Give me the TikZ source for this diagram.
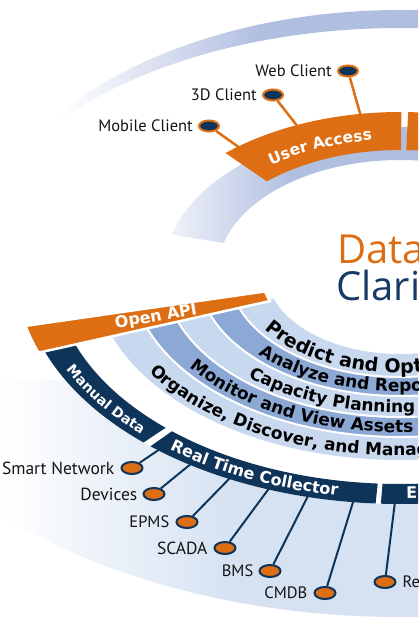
\documentclass[tikz,border=0pt]{standalone}
\usepackage{fontspec}
\setmainfont{PT Sans}
\newfontfamily\bandfont{DejaVu Sans}
\newfontfamily\titlefont{Open Sans}
\usetikzlibrary{decorations.text,shapes.geometric,positioning}
\definecolor{orng}{RGB}{222,110,20}
\definecolor{navy}{RGB}{14,52,90}
\definecolor{paleb}{RGB}{200,216,238}
\definecolor{medb}{RGB}{140,168,212}
\definecolor{bgb}{RGB}{214,226,242}
\definecolor{topb}{RGB}{176,190,224}
\definecolor{titlenavy}{RGB}{24,58,102}
\definecolor{lblgray}{RGB}{20,20,20}
\newcommand\bandtxt{\bandfont\bfseries\fontsize{17}{17}\selectfont}
\newcommand\predtxt{\bandfont\bfseries\fontsize{19}{19}\selectfont}
\newcommand\navytxt{\bandfont\bfseries\fontsize{16}{16}\selectfont}
\newcommand\mantxt{\bandfont\bfseries\fontsize{14}{14}\selectfont}
\newcommand\uatxt{\bandfont\bfseries\fontsize{15.5}{15.5}\selectfont}
\begin{document}
\begin{tikzpicture}[x=1pt,y=-1pt,
  ell/.style={shift={(400,272)},xscale=1.63},
  sect/.style n args={4}{insert path={(#1:#4) arc[start angle=#1,end angle=#2,radius=#4] -- (#2:#3) arc[start angle=#2,end angle=#1,radius=#3] -- cycle}},
  leafb/.style={ellipse,draw=navy,fill=orng,line width=2pt,minimum width=21pt,minimum height=12pt,inner sep=0pt},
  leaft/.style={ellipse,draw=orng,fill=navy,line width=2pt,minimum width=20pt,minimum height=11pt,inner sep=0pt},
  lbl/.style={font=\fontsize{16.5}{16.5}\selectfont,text=lblgray,inner sep=0pt},
  nline/.style={draw=navy,line width=2pt},
  oline/.style={draw=orng,line width=2.5pt},
  btext/.style={decorate,decoration={text along path,text align=left,text={#1}}},
  wtext/.style={decorate,decoration={text along path,text align=left,text color=white,text={#1}}}
]
\useasboundingbox (0,0) rectangle (418,626);
\clip (0,0) rectangle (418,626);

% faded top arcs
\begin{scope}
  \path[clip,shift={(400,272)}] (200:428 and 262) arc[start angle=200,end angle=300,x radius=428,y radius=262]
     -- (300:434 and 244) arc[start angle=300,end angle=200,x radius=434,y radius=244] -- cycle;
  \shade[left color=white,right color=topb] (60,0) rectangle (262,200);
  \fill[topb] (260,0) rectangle (430,200);
\end{scope}
\begin{scope}
  \path[clip,ell,sect={195}{300}{112}{145}];
  \shade[left color=white,right color=topb] (140,100) rectangle (292,260);
  \fill[topb] (290,100) rectangle (430,260);
\end{scope}

% faded background ring below
\begin{scope}
  \path[clip,ell,sect={162}{50}{232}{345}];
  \shade[left color=white,right color=bgb] (0,380) rectangle (232,626);
  \fill[bgb] (230,380) rectangle (430,626);
\end{scope}

% leaf nodes and labels
\node[leaft] (mobile) at (209,126) {};
\node[leaft] (threed) at (273,95) {};
\node[leaft] (web) at (348,71) {};
\node[lbl,left=5pt of mobile] (mobilel) {Mobile Client};
\node[lbl,left=5pt of threed] (threedl) {3D Client};
\node[lbl,left=5pt of web] (webl) {Web Client};

\node[leafb] (smart) at (132,468) {};
\node[leafb] (devices) at (154,494) {};
\node[leafb] (epms) at (187,522) {};
\node[leafb] (scada) at (225,548) {};
\node[leafb] (bms) at (270,571) {};
\node[leafb] (cmdb) at (325,593) {};
\node[leafb] (re) at (385,582) {};
\node[lbl,left=6pt of smart,font=\fontsize{17.5}{17.5}\selectfont] (smartl) {Smart Network};
\node[lbl,left=5pt of devices,font=\fontsize{17.5}{17.5}\selectfont] (devicesl) {Devices};
\node[lbl,left=6pt of epms] (epmsl) {EPMS};
\node[lbl,left=6pt of scada,font=\fontsize{17.5}{17.5}\selectfont] (scadal) {SCADA};
\node[lbl,left=5pt of bms] (bmsl) {BMS};
\node[lbl,left=6pt of cmdb] (cmdbl) {CMDB};
\node[lbl,right=6pt of re] (rel) {Re};

% connector ends inside the bands
\coordinate (mobileA) at (244.9,151.5);
\coordinate (threedA) at (301.7,131.7);
\coordinate (webA) at (361.6,118.8);
\coordinate (smartA) at (165,445.6);
\coordinate (devicesA) at (196.6,459.2);
\coordinate (epmsA) at (234.2,473.7);
\coordinate (scadaA) at (273.6,482.2);
\coordinate (bmsA) at (310.7,490.6);
\coordinate (cmdbA) at (354.8,496.3);
\coordinate (reA) at (395.7,496);

\draw[oline] (mobile) -- (mobileA);
\draw[oline] (threed) -- (threedA);
\draw[oline] (web) -- (webA);
\draw[nline] (smart) -- (smartA);
\draw[nline] (devices) -- (devicesA);
\draw[nline] (epms) -- (epmsA);
\draw[nline] (scada) -- (scadaA);
\draw[nline] (bms) -- (bmsA);
\draw[nline] (cmdb) -- (cmdbA);
\draw[nline] (re) -- (reA);

% blue bands
\fill[ell,paleb,sect={161}{50}{82}{105}];
\fill[ell,medb,sect={161}{50}{105}{124}];
\fill[ell,paleb,sect={161}{50}{124}{145}];
\fill[ell,medb,sect={161}{50}{145}{165}];
\fill[ell,paleb,sect={161}{50}{165}{188}];
\begin{scope}[ell]
  \foreach \r in {105,124,145,165}
    \draw[white,line width=2pt] (161:\r) arc[start angle=161,end angle=50,radius=\r];
\end{scope}

% navy ring
\fill[ell,navy,sect={160}{132.7}{212}{232}];
\fill[ell,navy,sect={131.3}{93.7}{212}{232}];
\fill[ell,navy,sect={92.9}{50}{212}{232}];

% orange bands
\filldraw[ell,fill=orng,draw=white,line width=2.5pt,sect={160}{166.8}{85}{236}];
\fill[ell,orng,sect={228}{270.3}{122}{160}];
\fill[ell,orng,sect={271.8}{300}{122}{160}];

% band texts
\begin{scope}[shift={(400,272)}]
  \path[btext={|\predtxt|Predict and Opti}]
    (145.5:{1.63*101} and 101) arc[start angle=145.5,end angle=70,x radius={1.63*101},y radius=101];
  \path[btext={|\bandtxt|Analyze and Repo}]
    (136.5:{1.63*119.5} and 119.5) arc[start angle=136.5,end angle=70,x radius={1.63*119.5},y radius=119.5];
  \path[btext={|\bandtxt|Capacity Planning}]
    (131.5:{1.63*140.5} and 140.5) arc[start angle=131.5,end angle=70,x radius={1.63*140.5},y radius=140.5];
  \path[btext={|\bandtxt|Monitor and View Assets}]
    (143.5:{1.63*160.5} and 160.5) arc[start angle=143.5,end angle=70,x radius={1.63*160.5},y radius=160.5];
  \path[btext={|\bandtxt|Organize, Discover, and Manag}]
    (147:{1.63*183.5} and 183.5) arc[start angle=147,end angle=70,x radius={1.63*183.5},y radius=183.5];
  \path[wtext={|\mantxt|Manual Data}]
    (154.5:{1.63*227} and 227) arc[start angle=154.5,end angle=132.8,x radius={1.63*227},y radius=227];
  \path[wtext={|\navytxt|Real Time Collector}]
    (128.5:{1.63*227} and 227) arc[start angle=128.5,end angle=93.8,x radius={1.63*227},y radius=227];
  \path[wtext={|\navytxt|E}]
    (89:{1.63*227} and 227) arc[start angle=89,end angle=70,x radius={1.63*227},y radius=227];
  \path[wtext={|\uatxt|User Access}]
    (233.5:{1.63*133} and 133) arc[start angle=233.5,end angle=270,x radius={1.63*133},y radius=133];
\end{scope}

\node[rotate=9.8,text=white,inner sep=0pt,font=\bandfont\bfseries\fontsize{16}{16}\selectfont] (openapi) at (156,317) {Open API};

% title
\node[anchor=base west,inner sep=0pt,text=orng,font=\titlefont\fontsize{40}{40}\selectfont] (data) at (337,263) {Data};
\node[anchor=base west,inner sep=0pt,text=titlenavy,font=\titlefont\fontsize{40}{40}\selectfont] (clari) at (336,300) {Clari};
\end{tikzpicture}
\end{document}
